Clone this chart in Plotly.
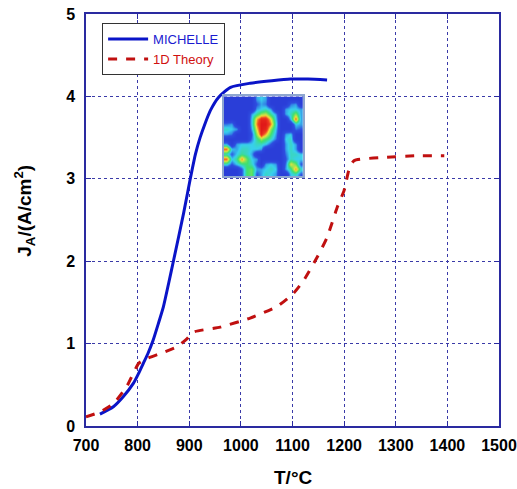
import plotly.graph_objects as go

# MICHELLE curve
mich_T = [727, 753, 772, 792, 802, 811, 820, 830, 840, 850, 860, 870, 889, 902, 912, 921, 930, 941, 957, 980, 1018, 1060, 1096, 1130, 1167]
mich_J = [0.145, 0.234, 0.355, 0.52, 0.64, 0.76, 0.88, 1.04, 1.24, 1.45, 1.73, 2.02, 2.58, 3.0, 3.3, 3.5, 3.66, 3.83, 3.99, 4.11, 4.16, 4.19, 4.21, 4.21, 4.2]

# 1D theory curve
th_T = [700, 727, 753, 779, 802, 818, 844, 876, 896, 908, 960, 1018, 1070, 1102, 1122, 1148, 1167, 1187, 1200, 1209, 1219, 1277, 1342, 1394]
th_J = [0.11, 0.17, 0.27, 0.48, 0.76, 0.82, 0.88, 0.96, 1.06, 1.14, 1.2, 1.31, 1.45, 1.61, 1.77, 2.05, 2.29, 2.66, 2.86, 3.1, 3.22, 3.26, 3.28, 3.28]

x_ticks = [700, 800, 900, 1000, 1100, 1200, 1300, 1400, 1500]
y_ticks = [0, 1, 2, 3, 4, 5]

# inset map (normalised intensity, rows top to bottom)
inset_z = [
    [0, 0, 0, 0, 0, 0, 0.3, 0.35, 0.3, 0, 0, 0, 0, 0, 0, 0],
    [0, 0, 0, 0, 0, 0, 0.2, 0.3, 0.25, 0, 0, 0, 0, 0.25, 0.3, 0],
    [0, 0, 0, 0, 0, 0, 0.3, 0.35, 0.4, 0.3, 0, 0, 0.3, 0.35, 0.35, 0.3],
    [0, 0, 0, 0, 0, 0.3, 0.45, 0.6, 0.65, 0.45, 0.3, 0, 0.3, 0.4, 0.6, 0.3],
    [0, 0, 0, 0, 0, 0.35, 0.75, 0.95, 0.95, 0.7, 0.35, 0, 0, 0.35, 0.85, 0.3],
    [0.25, 0.3, 0, 0, 0, 0.35, 0.8, 1.0, 1.0, 0.8, 0.4, 0, 0, 0, 0.35, 0.3],
    [0.4, 0.35, 0.3, 0, 0, 0.3, 0.7, 1.0, 0.95, 0.6, 0.35, 0, 0, 0, 0.25, 0.2],
    [0.3, 0.25, 0, 0, 0, 0.2, 0.6, 0.95, 0.75, 0.5, 0.3, 0, 0.3, 0.35, 0, 0],
    [0, 0, 0, 0, 0, 0.25, 0.45, 0.6, 0.5, 0.4, 0.25, 0, 0.35, 0.4, 0, 0],
    [0.3, 0, 0.3, 0.35, 0.35, 0.35, 0.4, 0.4, 0.35, 0.2, 0, 0, 0.3, 0.4, 0.3, 0],
    [0.85, 0.35, 0.3, 0.4, 0.4, 0.35, 0.35, 0.3, 0, 0, 0, 0, 0.3, 0.4, 0.3, 0],
    [0.4, 0.2, 0.35, 0.45, 0.4, 0.3, 0, 0, 0, 0, 0, 0, 0.25, 0.4, 0.4, 0.35],
    [0.85, 0.35, 0.45, 0.8, 0.55, 0.35, 0.3, 0, 0, 0, 0, 0, 0.2, 0.4, 0.35, 0.35],
    [0.4, 0.2, 0.35, 0.45, 0.5, 0.4, 0.2, 0, 0.3, 0.35, 0.3, 0, 0.25, 0.7, 0.55, 0.2],
    [0, 0, 0, 0.2, 0.5, 0.55, 0.3, 0.3, 0.35, 0.4, 0.35, 0, 0.3, 0.45, 0.8, 0.4],
    [0, 0, 0, 0.2, 0.5, 0.55, 0.2, 0.3, 0.4, 0.35, 0.3, 0, 0, 0.35, 0.4, 0.2],
]

FONT = "Liberation Sans, Arial, sans-serif"
AXC = "#2a2aa0"
GRIDC = "#3a3aa8"

fig = go.Figure()
fig.add_trace(go.Scatter(x=mich_T, y=mich_J, mode="lines",
                         line=dict(color="#0a14c8", width=3, shape="spline", smoothing=0.6),
                         name="<span style='color:#1a1ad0'>MICHELLE</span>"))
fig.add_trace(go.Scatter(x=th_T, y=th_J, mode="lines",
                         line=dict(color="#c01010", width=3, dash="dash", shape="spline", smoothing=0.5),
                         name="<span style='color:#d01010'>1D Theory</span>"))
fig.add_trace(go.Heatmap(z=inset_z, xaxis="x2", yaxis="y2", zsmooth="best", showscale=False, zmin=0, zmax=1,
                         hoverinfo="skip",
                         colorscale=[[0, "#2a3ed8"], [0.2, "#2e4ee0"], [0.35, "#38d0ee"], [0.5, "#3ee070"],
                                     [0.7, "#f0e23a"], [0.85, "#f04020"], [1, "#e01818"]]))

fig.update_layout(
    width=517, height=489,
    margin=dict(l=86, r=18, t=14, b=63),
    paper_bgcolor="white", plot_bgcolor="white",
    font=dict(family=FONT, color="black"),
    showlegend=True,
    legend=dict(x=0.039, y=0.978, xanchor="left", yanchor="top", bgcolor="white",
                bordercolor="#333333", borderwidth=1, font=dict(size=13, family=FONT),
                tracegroupgap=0, itemwidth=40),
    xaxis=dict(range=[700, 1500], tickvals=x_ticks, ticktext=[str(v) for v in x_ticks],
               showgrid=True, gridcolor=GRIDC, griddash="dot", gridwidth=1,
               showline=True, linecolor=AXC, linewidth=1.5, mirror="ticks",
               ticks="inside", ticklen=5, tickcolor=AXC, zeroline=False, automargin=False,
               ticklabelstandoff=4,
               tickfont=dict(size=16, family=FONT, color="black", weight="bold")),
    yaxis=dict(range=[0, 5], tickvals=y_ticks, ticktext=[str(v) for v in y_ticks],
               showgrid=True, gridcolor=GRIDC, griddash="dot", gridwidth=1,
               showline=True, linecolor=AXC, linewidth=1.5, mirror="ticks",
               ticks="inside", ticklen=5, tickcolor=AXC, zeroline=False, automargin=False,
               ticklabelstandoff=6,
               tickfont=dict(size=16, family=FONT, color="black", weight="bold")),
    xaxis2=dict(domain=[0.334, 0.525], anchor="y2", showticklabels=False, showgrid=False, zeroline=False,
                showline=True, mirror=True, linecolor="#8ea6d0", linewidth=2, ticks="", automargin=False),
    yaxis2=dict(domain=[0.607, 0.8], anchor="x2", showticklabels=False, showgrid=False, zeroline=False,
                showline=True, mirror=True, linecolor="#8ea6d0", linewidth=2, ticks="", autorange="reversed",
                automargin=False),
    annotations=[
        dict(text="<b>T/°C</b>", xref="paper", yref="paper", x=0.5, y=-0.126, xanchor="center",
             yanchor="middle", showarrow=False, font=dict(size=19, family=FONT, color="black")),
        dict(text="<b>J<sub>A</sub>/(A/cm<sup>2</sup>)</b>", xref="paper", yref="paper", x=-0.148, y=0.522,
             xanchor="center", yanchor="middle", textangle=-90, showarrow=False,
             font=dict(size=19, family=FONT, color="black")),
    ],
)

fig.write_html("out.html")
